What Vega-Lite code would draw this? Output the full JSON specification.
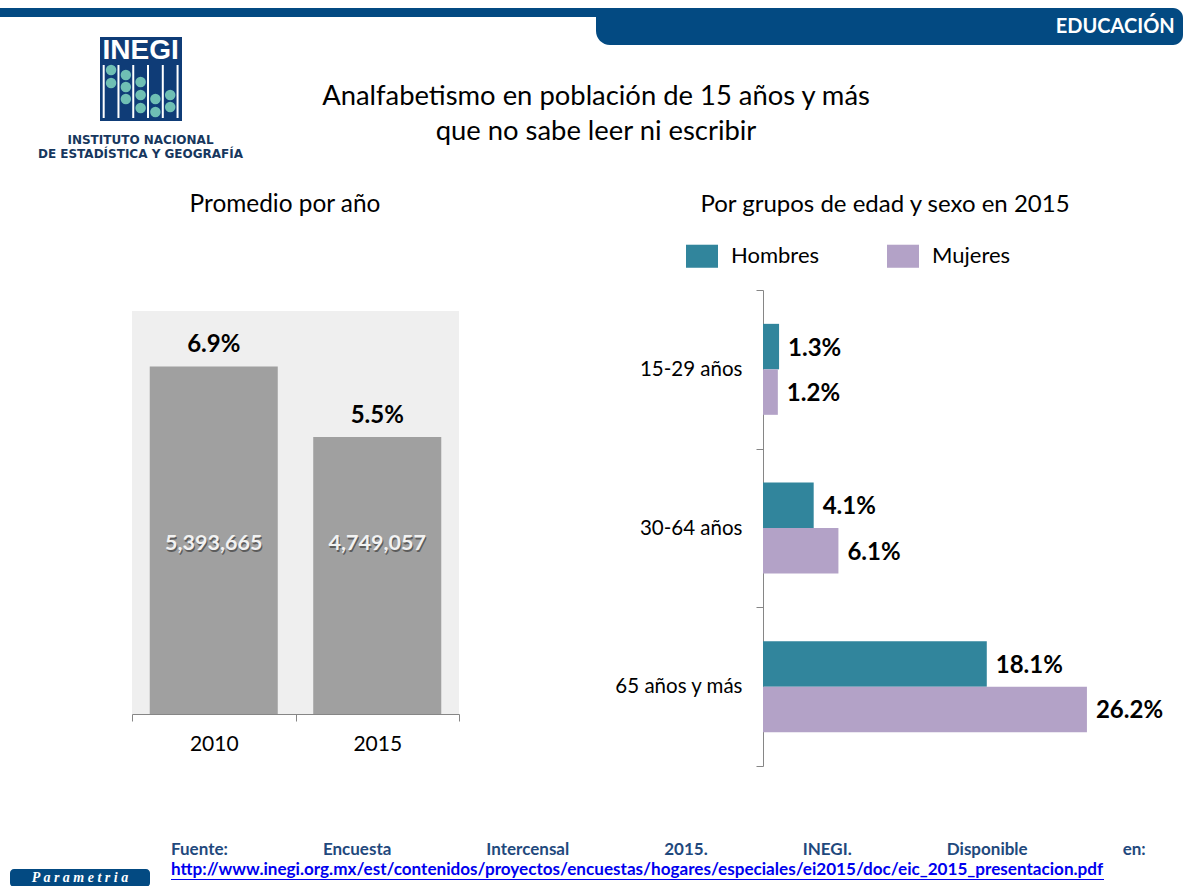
{
"$schema":"https://vega.github.io/schema/vega-lite/v6.json",
"padding":{"left":0,"top":6,"right":0,"bottom":0},
"background":"#ffffff",
"config":{"view":{"stroke":null},"concat":{"spacing":0},"font":"Lato","text":{"font":"Lato"}},
"vconcat":[
 {"hconcat":[
   {"vconcat":[
     {"width":281,"height":9,"view":{"fill":"#034a82","stroke":null},"data":{"values":[{"s":""}]},"mark":{"type":"text"},"encoding":{"text":{"field":"s"}}},
     {"width":281,"height":18,"data":{"values":[{"s":""}]},"mark":{"type":"text"},"encoding":{"text":{"field":"s"}}},
     {"hconcat":[
       {"width":100,"height":84,"data":{"values":[{"s":""}]},"mark":{"type":"text"},"encoding":{"text":{"field":"s"}}},
       {"width":82,"height":84,"view":{"fill":"#0f3c77","stroke":null},
        "layer":[
         {"data":{"values":[{"c":0.5},{"c":1.5},{"c":2.5},{"c":3.5},{"c":4.5},{"c":5.5}]},"mark":{"type":"rule","color":"#ffffff","strokeWidth":2},
          "encoding":{"x":{"field":"c","type":"quantitative","scale":{"domain":[0.25,5.8],"nice":false,"zero":false},"axis":null},"y":{"datum":56,"type":"quantitative","scale":{"domain":[0,84],"nice":false},"axis":null},"y2":{"datum":3}}},
         {"data":{"values":[{"c":1,"h":51},{"c":1,"h":38},{"c":2,"h":46},{"c":2,"h":34},{"c":2,"h":22},{"c":3,"h":39},{"c":3,"h":26},{"c":3,"h":13},{"c":4,"h":22},{"c":4,"h":9},{"c":5,"h":26},{"c":5,"h":14}]},"mark":{"type":"circle","color":"#6fbfb4","opacity":1,"size":110},
          "encoding":{"x":{"field":"c","type":"quantitative"},"y":{"field":"h","type":"quantitative"}}},
         {"data":{"values":[{"s":"INEGI"}]},"mark":{"type":"text","color":"#ffffff","font":"Liberation Sans","fontWeight":"bold","fontSize":28},
          "encoding":{"text":{"field":"s"},"x":{"datum":3,"type":"quantitative"},"y":{"datum":70,"type":"quantitative"}}}
        ]}
     ]},
     {"width":281,"height":3,"data":{"values":[{"s":""}]},"mark":{"type":"text"},"encoding":{"text":{"field":"s"}}},
     {"width":281,"height":28,"data":{"values":[{"t":"INSTITUTO NACIONAL"},{"t":"DE ESTADÍSTICA Y GEOGRAFÍA"}]},"mark":{"type":"text","color":"#17375e","font":"DejaVu Sans","fontWeight":"bold","fontSize":12},
      "encoding":{"text":{"field":"t"},"y":{"field":"t","type":"nominal","sort":null,"axis":null}}},
     {"width":281,"height":26,"data":{"values":[{"s":""}]},"mark":{"type":"text"},"encoding":{"text":{"field":"s"}}}
   ]},
   {"vconcat":[
     {"hconcat":[
       {"width":315,"height":9,"view":{"fill":"#034a82","stroke":null},"data":{"values":[{"s":""}]},"mark":{"type":"text"},"encoding":{"text":{"field":"s"}}},
       {"width":587,"height":37,"layer":[
         {"data":{"values":[{"s":"tab"}]},"mark":{"type":"bar","color":"#034a82","cornerRadiusBottomLeft":14,"cornerRadiusBottomRight":10,"cornerRadiusTopRight":10},
          "encoding":{"x":{"datum":0,"type":"quantitative","scale":{"domain":[0,1],"nice":false},"axis":null},"x2":{"datum":1},"y":{"datum":0,"type":"quantitative","scale":{"domain":[0,1],"nice":false},"axis":null},"y2":{"datum":1}}},
         {"data":{"values":[{"s":"EDUCACIÓN"}]},"mark":{"type":"text","color":"#ffffff","fontWeight":"bold","fontSize":20,"align":"right","font":"Lato"},
          "encoding":{"text":{"field":"s"},"x":{"datum":0.986,"type":"quantitative"}}}
       ]}
     ]},
     {"width":630,"height":34,"data":{"values":[{"s":""}]},"mark":{"type":"text"},"encoding":{"text":{"field":"s"}}},
     {"width":630,"height":70,"data":{"values":[{"t":"Analfabetismo en población de 15 años y más"},{"t":"que no sabe leer ni escribir"}]},"mark":{"type":"text","color":"#000000","fontSize":27.4,"font":"Lato"},
      "encoding":{"text":{"field":"t"},"y":{"field":"t","type":"nominal","sort":null,"axis":null}}}
   ]}
 ]},
 {"hconcat":[
   {"width":131,"height":10,"data":{"values":[{"s":""}]},"mark":{"type":"text"},"encoding":{"text":{"field":"s"}}},
   {"bounds":"flush","spacing":89,"vconcat":[
     {"width":306,"height":34,"data":{"values":[{"t":"Promedio por año"}]},"mark":{"type":"text","color":"#000000","fontSize":24.4,"font":"Lato"},"encoding":{"text":{"field":"t"}}},
     {"width":327,"height":403,"view":{"fill":"#efefef","stroke":null},
      "data":{"values":[{"anio":"2010","pct":6.9,"etiqueta":"6.9%","personas":"5,393,665"},{"anio":"2015","pct":5.5,"etiqueta":"5.5%","personas":"4,749,057"}]},
      "encoding":{"x":{"field":"anio","type":"nominal","scale":{"type":"band","paddingInner":0,"paddingOuter":0},"axis":{"title":null,"labelAngle":0,"tickBand":"extent","domainColor":"#868686","tickColor":"#868686","tickSize":7,"labelFontSize":21,"labelFont":"Lato","labelColor":"#000000","labelPadding":12}}},
      "layer":[
        {"mark":{"type":"bar","color":"#a0a0a0","width":{"band":0.783}},"encoding":{"y":{"field":"pct","type":"quantitative","scale":{"domain":[0,8],"nice":false},"axis":null}}},
        {"mark":{"type":"text","fontWeight":"bold","fontSize":24,"color":"#000000","dy":-21,"font":"Lato"},"encoding":{"y":{"field":"pct","type":"quantitative"},"text":{"field":"etiqueta"}}},
        {"mark":{"type":"text","fontWeight":"bold","fontSize":21.5,"color":"#5c5c5c","dx":1,"dy":2,"font":"Lato"},"encoding":{"y":{"datum":3.38,"type":"quantitative"},"text":{"field":"personas"}}},
        {"mark":{"type":"text","fontWeight":"bold","fontSize":21.5,"color":"#f2f2f2","font":"Lato"},"encoding":{"y":{"datum":3.38,"type":"quantitative"},"text":{"field":"personas"}}}
      ]}
   ]},
   {"width":153,"height":10,"data":{"values":[{"s":""}]},"mark":{"type":"text"},"encoding":{"text":{"field":"s"}}},
   {"bounds":"flush","spacing":68,"vconcat":[
     {"width":244,"height":34,"data":{"values":[{"t":"Por grupos de edad y sexo en 2015"}]},"mark":{"type":"text","color":"#000000","fontSize":24,"font":"Lato"},"encoding":{"text":{"field":"t"}}},
     {"width":340,"height":476,
      "data":{"values":[
        {"grupo":"15-29 años","sexo":"Hombres","pct":1.3,"etiqueta":"1.3%"},
        {"grupo":"15-29 años","sexo":"Mujeres","pct":1.2,"etiqueta":"1.2%"},
        {"grupo":"30-64 años","sexo":"Hombres","pct":4.1,"etiqueta":"4.1%"},
        {"grupo":"30-64 años","sexo":"Mujeres","pct":6.1,"etiqueta":"6.1%"},
        {"grupo":"65 años y más","sexo":"Hombres","pct":18.1,"etiqueta":"18.1%"},
        {"grupo":"65 años y más","sexo":"Mujeres","pct":26.2,"etiqueta":"26.2%"}
      ]},
      "encoding":{
        "y":{"field":"grupo","type":"nominal","sort":null,"scale":{"type":"band","paddingInner":0,"paddingOuter":0},"axis":{"title":null,"tickBand":"extent","domainColor":"#868686","tickColor":"#868686","tickSize":7,"labelFontSize":20.5,"labelFont":"Lato","labelColor":"#000000","labelPadding":14}},
        "yOffset":{"field":"sexo","type":"nominal","sort":["Hombres","Mujeres"],"scale":{"paddingInner":0,"paddingOuter":0.744}},
        "x":{"field":"pct","type":"quantitative","scale":{"domain":[0,27.5],"nice":false},"axis":null}
      },
      "layer":[
        {"mark":{"type":"bar"},"encoding":{"color":{"field":"sexo","type":"nominal","scale":{"domain":["Hombres","Mujeres"],"range":["#31859c","#b3a2c7"]},
          "legend":{"title":null,"orient":"none","legendX":686,"legendY":232,"direction":"horizontal","symbolType":"M-1,-0.72H1V0.72H-1Z","symbolSize":1024,"symbolStrokeWidth":0,"labelFontSize":22,"labelFont":"Lato","labelColor":"#000000","labelOffset":13,"columnPadding":67}}}},
        {"mark":{"type":"text","align":"left","dx":9,"dy":2,"fontWeight":"bold","fontSize":24,"color":"#000000","font":"Lato"},"encoding":{"text":{"field":"etiqueta"}}}
      ]}
   ]}
 ]},
 {"hconcat":[
   {"vconcat":[
     {"width":150,"height":101,"data":{"values":[{"s":""}]},"mark":{"type":"text"},"encoding":{"text":{"field":"s"}}},
     {"hconcat":[
       {"width":10,"height":18,"data":{"values":[{"s":""}]},"mark":{"type":"text"},"encoding":{"text":{"field":"s"}}},
       {"width":140,"height":18,"view":{"fill":"#034a82","stroke":null,"cornerRadius":4},"data":{"values":[{"s":"P a r a m e t r i a"}]},"mark":{"type":"text","color":"#ffffff","font":"Liberation Serif","fontStyle":"italic","fontWeight":"bold","fontSize":14},"encoding":{"text":{"field":"s"}}}
     ]}
   ]},
   {"width":21,"height":10,"data":{"values":[{"s":""}]},"mark":{"type":"text"},"encoding":{"text":{"field":"s"}}},
   {"bounds":"flush","vconcat":[
     {"width":1012,"height":71,"data":{"values":[{"s":""}]},"mark":{"type":"text"},"encoding":{"text":{"field":"s"}}},
     {"width":1012,"height":21,"data":{"values":[{"t":"Fuente:\u00a0\u00a0\u00a0\u00a0\u00a0\u00a0\u00a0\u00a0\u00a0\u00a0\u00a0\u00a0\u00a0\u00a0\u00a0\u00a0\u00a0\u00a0\u00a0\u00a0\u00a0\u00a0\u00a0Encuesta\u00a0\u00a0\u00a0\u00a0\u00a0\u00a0\u00a0\u00a0\u00a0\u00a0\u00a0\u00a0\u00a0\u00a0\u00a0\u00a0\u00a0\u00a0\u00a0\u00a0\u00a0\u00a0\u00a0Intercensal\u00a0\u00a0\u00a0\u00a0\u00a0\u00a0\u00a0\u00a0\u00a0\u00a0\u00a0\u00a0\u00a0\u00a0\u00a0\u00a0\u00a0\u00a0\u00a0\u00a0\u00a0\u00a0\u00a02015.\u00a0\u00a0\u00a0\u00a0\u00a0\u00a0\u00a0\u00a0\u00a0\u00a0\u00a0\u00a0\u00a0\u00a0\u00a0\u00a0\u00a0\u00a0\u00a0\u00a0\u00a0\u00a0\u00a0INEGI.\u00a0\u00a0\u00a0\u00a0\u00a0\u00a0\u00a0\u00a0\u00a0\u00a0\u00a0\u00a0\u00a0\u00a0\u00a0\u00a0\u00a0\u00a0\u00a0\u00a0\u00a0\u00a0\u00a0Disponible\u00a0\u00a0\u00a0\u00a0\u00a0\u00a0\u00a0\u00a0\u00a0\u00a0\u00a0\u00a0\u00a0\u00a0\u00a0\u00a0\u00a0\u00a0\u00a0\u00a0\u00a0\u00a0\u00a0en:"}]},"mark":{"type":"text","color":"#1f497d","fontWeight":"bold","fontSize":17,"font":"Lato","align":"left"},"encoding":{"text":{"field":"t"},"x":{"datum":0,"type":"quantitative","scale":{"domain":[0,1]},"axis":null}}},
     {"width":1012,"height":19,"data":{"values":[{"t":"http://www.inegi.org.mx/est/contenidos/proyectos/encuestas/hogares/especiales/ei2015/doc/eic_2015_presentacion.pdf"}]},"mark":{"type":"text","color":"#0000ee","fontWeight":"bold","fontSize":17.1,"font":"Lato","align":"left"},"encoding":{"text":{"field":"t"},"x":{"datum":0,"type":"quantitative","scale":{"domain":[0,1]},"axis":null}}},
     {"width":933,"height":1,"view":{"fill":"#0000ee","stroke":null},"data":{"values":[{"s":""}]},"mark":{"type":"text"},"encoding":{"text":{"field":"s"}}}
   ]}
 ]}
]
}
